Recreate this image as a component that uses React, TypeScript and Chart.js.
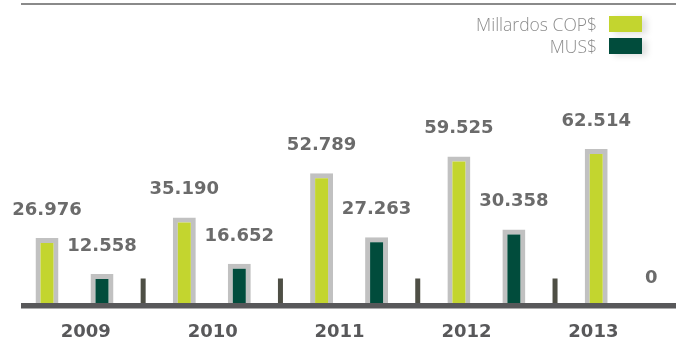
import React, { useEffect, useRef } from 'react';
import { Chart, registerables } from 'chart.js';

Chart.register(...registerables);

const years = ['2009', '2010', '2011', '2012', '2013'];
const seriesNames = ['Millardos COP$', 'MUS$'];
const copValues = [26976, 35190, 52789, 59525, 62514];
const usdValues = [12558, 16652, 27263, 30358, 0];
const seriesColors = ['#c3d52f', '#014c3c'];
const yMax = 122000;

function fmt(v: number): string {
  return String(Math.round(v)).replace(/\B(?=(\d{3})+(?!\d))/g, '.');
}

const valueLabels = {
  id: 'valueLabels',
  afterDatasetsDraw(chart: any) {
    const ctx = chart.ctx;
    ctx.save();
    ctx.font = 'bold 18px "DejaVu Sans"';
    ctx.fillStyle = '#6b6b6b';
    ctx.textAlign = 'center';
    ctx.textBaseline = 'alphabetic';
    chart.data.datasets.forEach((ds: any, di: number) => {
      const meta = chart.getDatasetMeta(di);
      meta.data.forEach((bar: any, i: number) => {
        ctx.fillText(fmt(ds.data[i].y), bar.x, bar.y - 23);
      });
    });
    ctx.restore();
  },
};

const separators = {
  id: 'separators',
  afterDatasetsDraw(chart: any) {
    const ctx = chart.ctx;
    const xs = chart.scales.x;
    const base = chart.scales.y.getPixelForValue(0);
    ctx.save();
    ctx.fillStyle = '#4e4f45';
    for (let i = 0; i < years.length - 1; i++) {
      const x = xs.getPixelForValue(i + 0.5);
      ctx.fillRect(x - 2.5, base - 27, 5, 27);
    }
    ctx.restore();
  },
};

export default function App() {
  const ref = useRef<HTMLCanvasElement>(null);

  useEffect(() => {
    document.body.style.margin = '0';
    const canvas = ref.current;
    if (!canvas) return;
    const chart = new Chart(canvas, {
      type: 'bar',
      data: {
        datasets: [copValues, usdValues].map((vals, k) => ({
          label: seriesNames[k],
          data: vals.map((v, i) => ({ x: i, y: v })),
          backgroundColor: seriesColors[k],
          borderColor: '#c1c1c1',
          borderWidth: 5,
          borderSkipped: 'start',
          categoryPercentage: 0.801,
          barPercentage: 0.418,
        })),
      } as any,
      options: {
        animation: false,
        responsive: true,
        maintainAspectRatio: false,
        layout: { padding: { left: 24, right: 0, top: 0, bottom: 0 } },
        plugins: { legend: { display: false }, tooltip: { enabled: false } },
        scales: {
          x: {
            type: 'linear',
            offset: false,
            min: -0.3678,
            max: 4.381,
            weight: 0,
            grid: { display: false, drawTicks: false, offset: false },
            ticks: { display: false },
            border: { display: true, color: '#58585a', width: 5.5, z: 1 },
            afterBuildTicks: (s: any) => {
              s.ticks = years.map((_, i) => ({ value: i }));
            },
          },
          xl: {
            type: 'linear',
            position: 'bottom',
            offset: false,
            min: -0.487,
            max: 4.651,
            weight: 1,
            grid: { display: false, drawTicks: false, offset: false },
            border: { display: false },
            ticks: {
              padding: 16,
              autoSkip: false,
              maxRotation: 0,
              color: '#58585a',
              font: { family: 'DejaVu Sans', weight: 'bold', size: 18 },
              callback: (v: any) => years[v] ?? '',
            },
            afterBuildTicks: (s: any) => {
              s.ticks = years.map((_, i) => ({ value: i }));
            },
            afterFit: (s: any) => {
              s.height = 36.5;
            },
          },
          y: { display: false, min: 0, max: yMax },
        },
      } as any,
      plugins: [separators, valueLabels],
    });
    return () => chart.destroy();
  }, []);

  return (
    <div style={{ position: 'relative', width: 676, height: 342 }}>
      <canvas ref={ref} />
      <div
        style={{
          position: 'absolute',
          left: 21,
          right: 0,
          top: 3,
          height: 2,
          background: '#8a8a8a',
        }}
      />
      <div style={{ position: 'absolute', right: 34, top: 16 }}>
        {seriesNames.map((n, k) => (
          <div
            key={n}
            style={{
              display: 'flex',
              justifyContent: 'flex-end',
              alignItems: 'center',
              height: 16,
              marginBottom: 6,
            }}
          >
            <span
              style={{
                fontFamily: '"Open Sans"',
                fontWeight: 300,
                fontSize: 17.5,
                lineHeight: '16px',
                color: '#8c8c8c',
                marginRight: 12,
                whiteSpace: 'nowrap',
              }}
            >
              {n}
            </span>
            <span
              style={{
                display: 'inline-block',
                width: 33,
                height: 16,
                background: seriesColors[k],
                boxShadow: '5px 2px 6px rgba(0,0,0,0.13)',
              }}
            />
          </div>
        ))}
      </div>
    </div>
  );
}
